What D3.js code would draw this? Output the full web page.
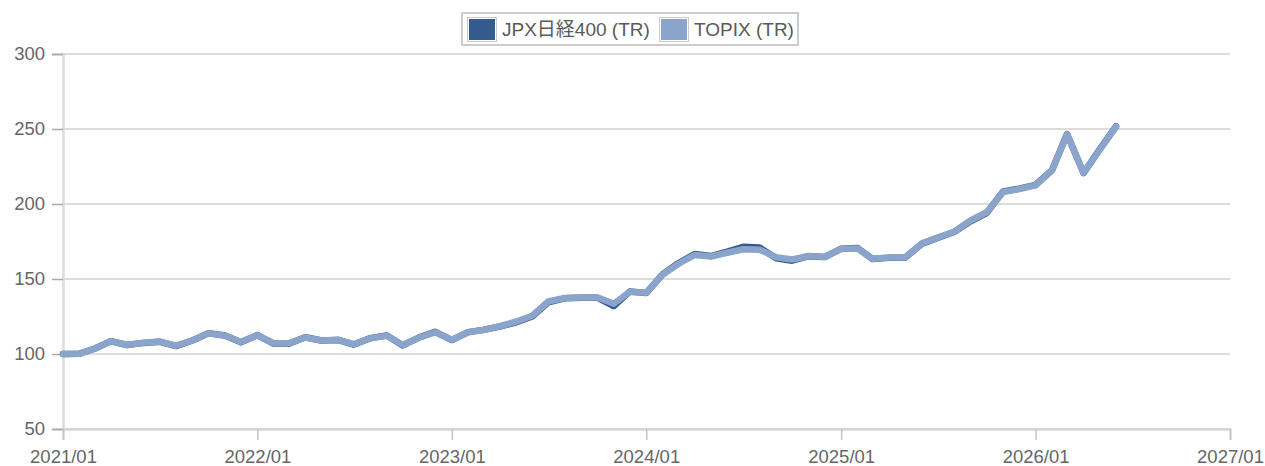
<!DOCTYPE html>
<html>
<head>
<meta charset="utf-8">
<script src="https://cdn.jsdelivr.net/npm/d3@7"></script>
<style>
  html, body { margin: 0; padding: 0; background: #fff; }
  svg { display: block; font-family: "Liberation Sans", Arial, sans-serif; }
</style>
</head>
<body>
<svg id="chart" width="1265" height="466"></svg>
<script>
// Monthly index levels (start = 100)
const months = [
  "2021/01","2021/02","2021/03","2021/04","2021/05","2021/06","2021/07","2021/08","2021/09","2021/10","2021/11","2021/12",
  "2022/01","2022/02","2022/03","2022/04","2022/05","2022/06","2022/07","2022/08","2022/09","2022/10","2022/11","2022/12",
  "2023/01","2023/02","2023/03","2023/04","2023/05","2023/06","2023/07","2023/08","2023/09","2023/10","2023/11","2023/12",
  "2024/01","2024/02","2024/03","2024/04","2024/05","2024/06","2024/07","2024/08","2024/09","2024/10","2024/11","2024/12",
  "2025/01","2025/02","2025/03","2025/04","2025/05","2025/06","2025/07","2025/08","2025/09","2025/10","2025/11","2025/12",
  "2026/01","2026/02","2026/03","2026/04","2026/05","2026/06"
];

const jpx400 = [
  100, 100.2, 103.5, 108.6, 106, 107.4, 108.2, 105.3, 109, 113.9, 112.3, 107.8,
  112.6, 106.8, 106.9, 111.2, 109, 109.4, 106.3, 110.6, 112.4, 105.7, 111.1, 114.8,
  109.3, 114.6, 116.1, 118.3, 121, 125, 134.5, 137.1, 137.5, 137.6, 132, 141.6,
  140.6, 153.3, 160.5, 166.6, 165.3, 168.2, 171.5, 171, 163.8, 162.2, 165.2, 164.6,
  170.2, 170.6, 163.3, 164.1, 164.2, 173.4, 177.4, 181.3, 188.5, 194, 208.3, 210.2,
  212.8, 222.6, 246.6, 220.6, 236.2, 251.8
];

const topix = [
  100, 100.2, 103.5, 108.5, 106, 107.5, 108.3, 105.5, 109, 113.8, 112.2, 108,
  112.5, 107, 107, 111, 109, 109.5, 106.5, 110.5, 112.2, 106, 111, 114.5,
  109.5, 114.5, 116, 118.5, 121.5, 125.5, 135, 137.3, 137.6, 137.8, 133.5, 141.5,
  140.8, 153, 160, 166, 165, 167.5, 169.8, 169.5, 164.5, 163, 165.3, 164.8,
  170, 170.3, 163.5, 164.3, 164.3, 173.5, 177.5, 181.5, 189, 194.5, 208, 210,
  212.5, 222.5, 246.5, 220.8, 236, 251.5
];

const seriesNames = ["JPX日経400 (TR)", "TOPIX (TR)"];
const seriesColors = ["#345b8d", "#8aa4cc"];
const yTicks = [50, 100, 150, 200, 250, 300];
const xTickLabels = ["2021/01","2022/01","2023/01","2024/01","2025/01","2026/01","2027/01"];

const parse = d3.timeParse("%Y/%m");
const fmt = d3.timeFormat("%Y/%m");

const svg = d3.select("#chart");
const plotLeft = 63, plotRight = 1230, plotTop = 54, plotBottom = 429;

const x = d3.scaleTime()
  .domain([parse(xTickLabels[0]), parse(xTickLabels[xTickLabels.length - 1])])
  .range([plotLeft, plotRight]);
const y = d3.scaleLinear().domain([50, 300]).range([plotBottom, plotTop]);

// horizontal grid
svg.append("g")
  .selectAll("line")
  .data(yTicks)
  .join("line")
  .attr("x1", plotLeft).attr("x2", plotRight)
  .attr("y1", d => y(d)).attr("y2", d => y(d))
  .attr("stroke", "#d0d0d0")
  .attr("stroke-width", 1.5);

// y axis
const yAxis = svg.append("g")
  .attr("transform", `translate(${plotLeft},0)`)
  .call(d3.axisLeft(y).tickValues(yTicks).tickSize(11).tickPadding(7).tickFormat(d3.format("d")));
yAxis.select(".domain").attr("stroke", "#dcdcdc").attr("stroke-width", 2.5);
yAxis.selectAll(".tick line").attr("stroke", "#a8a8a8").attr("stroke-width", 1.5);
yAxis.selectAll(".tick text")
  .attr("fill", "#666").attr("font-size", "18.5px")
  .attr("font-family", "Liberation Sans, Arial, sans-serif");

// x axis
const xAxis = svg.append("g")
  .attr("transform", `translate(0,${plotBottom})`)
  .call(d3.axisBottom(x).tickValues(xTickLabels.map(parse)).tickSize(11).tickPadding(10).tickFormat(fmt));
xAxis.select(".domain").attr("stroke", "#d0d0d0").attr("stroke-width", 2);
xAxis.selectAll(".tick line").attr("stroke", "#c4c4c4").attr("stroke-width", 1.5);
xAxis.selectAll(".tick text")
  .attr("fill", "#666").attr("font-size", "18.5px")
  .attr("font-family", "Liberation Sans, Arial, sans-serif");

// lines
const line = d3.line()
  .x((d, i) => x(parse(months[i])))
  .y(d => y(d));

[jpx400, topix].forEach((vals, k) => {
  svg.append("path")
    .datum(vals)
    .attr("fill", "none")
    .attr("stroke", seriesColors[k])
    .attr("stroke-width", 6.5)
    .attr("stroke-linejoin", "round")
    .attr("stroke-linecap", "round")
    .attr("d", line);
});

// legend
const legend = svg.append("g").attr("class", "legend");
legend.append("rect")
  .attr("x", 462).attr("y", 13).attr("width", 336).attr("height", 32)
  .attr("fill", "#fff").attr("stroke", "#cccccc").attr("stroke-width", 2);

const legendX = [467, 659];
seriesNames.forEach((name, k) => {
  const g = legend.append("g").attr("transform", `translate(${legendX[k]},17)`);
  g.append("rect")
    .attr("x", 0.5).attr("y", 0.5).attr("width", 29).attr("height", 24)
    .attr("fill", "#fff").attr("stroke", "#cccccc").attr("stroke-width", 1);
  g.append("rect")
    .attr("x", 2).attr("y", 2).attr("width", 26).attr("height", 21)
    .attr("fill", seriesColors[k]);
  g.append("text")
    .attr("x", 35).attr("y", 19)
    .attr("fill", "#5a5a5a")
    .attr("font-size", "19px")
    .attr("font-family", "Liberation Sans, 'Noto Sans CJK JP', Arial, sans-serif")
    .text(name);
});
</script>
</body>
</html>
